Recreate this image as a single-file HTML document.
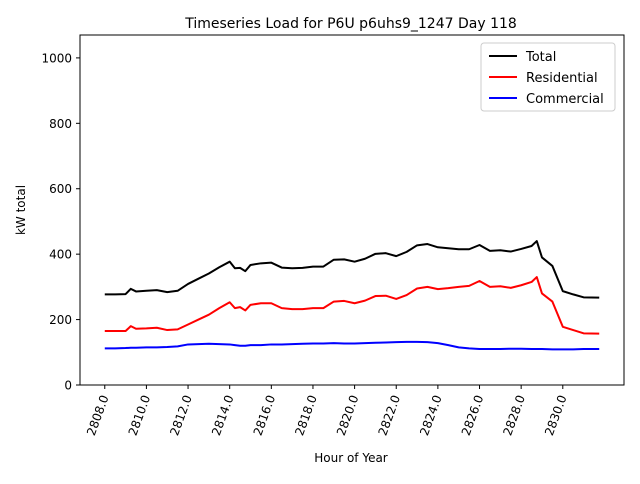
<!DOCTYPE html>
<html><head><meta charset="utf-8"><style>
body{margin:0;background:#fff;font-family:"DejaVu Sans","Liberation Sans",sans-serif}
</style></head><body>
<svg id="chart" width="640" height="480" xmlns="http://www.w3.org/2000/svg" font-family="DejaVu Sans, Liberation Sans, sans-serif">
<text x="351" y="28" text-anchor="middle" font-size="14">Timeseries Load for P6U p6uhs9_1247  Day 118</text>
<g id="grid"></g>
<g id="lines"></g>
<rect x="80" y="35" width="544" height="350" fill="none" stroke="#000" stroke-width="1"/>
<text x="351" y="462" text-anchor="middle" font-size="12">Hour of Year</text>
<text transform="translate(25,210) rotate(-90)" text-anchor="middle" font-size="12">kW total</text>
<g>
<rect x="481" y="43" width="134" height="68" fill="#fff" stroke="#ccc" rx="3"/>
<line x1="489" y1="56" x2="517" y2="56" stroke="#000" stroke-width="2"/><text x="526" y="61" font-size="13">Total</text>
<line x1="489" y1="77" x2="517" y2="77" stroke="red" stroke-width="2"/><text x="526" y="82" font-size="13">Residential</text>
<line x1="489" y1="98" x2="517" y2="98" stroke="blue" stroke-width="2"/><text x="526" y="103" font-size="13">Commercial</text>
</g>
</svg>
<script>
const hours=[2808,2808.5,2809,2809.25,2809.5,2810,2810.5,2811,2811.5,2812,2812.5,2813,2813.5,2814,2814.25,2814.5,2814.75,2815,2815.5,2816,2816.5,2817,2817.5,2818,2818.5,2819,2819.5,2820,2820.5,2821,2821.5,2822,2822.5,2823,2823.5,2824,2824.5,2825,2825.5,2826,2826.5,2827,2827.5,2828,2828.5,2828.75,2829,2829.5,2830,2830.5,2831,2831.75];
const residential=[165,165,165,180,172,173,175,168,170,185,200,215,235,253,235,238,228,245,250,250,235,232,232,235,235,255,257,250,258,272,273,263,275,295,300,293,296,300,303,318,300,302,297,305,315,330,280,255,178,168,158,157];
const commercial=[112,112,113,114,114,115,115,116,118,124,125,126,125,124,122,120,120,122,122,124,124,125,126,127,127,128,127,127,128,129,130,131,132,132,131,128,122,115,112,110,110,110,111,111,110,110,110,109,109,109,110,110];
const total=residential.map((r,i)=>r+commercial[i]);
const xTicks=[2808,2810,2812,2814,2816,2818,2820,2822,2824,2826,2828,2830];
const yTicks=[0,200,400,600,800,1000];
const X0=80,X1=624,Y0=385,Y1=35,xmin=2806.81,xmax=2832.94,ymin=0,ymax=1070;
const sx=v=>X0+(v-xmin)/(xmax-xmin)*(X1-X0);
const sy=v=>Y0-(v-ymin)/(ymax-ymin)*(Y0-Y1);
const NS="http://www.w3.org/2000/svg";
const g=document.getElementById('grid'),L=document.getElementById('lines');
function mk(t,a,p){const e=document.createElementNS(NS,t);for(const k in a)e.setAttribute(k,a[k]);p.appendChild(e);return e;}
xTicks.forEach(t=>{const x=sx(t);
const tk=mk('line',{x1:x,y1:385,x2:x,y2:389,stroke:'#000'},g);


const tx=mk('text',{x:0,y:0,'font-size':12,'text-anchor':'end',transform:`translate(${x+4},${397}) rotate(-70)`},g);
tx.textContent=t.toFixed(1);

});
yTicks.forEach(t=>{const y=sy(t);
const tk=mk('line',{x1:76,y1:y,x2:80,y2:y,stroke:'#000'},g);


const tx=mk('text',{x:72,y:y+4.5,'font-size':12,'text-anchor':'end'},g);
tx.textContent=t;

});
[[total,'#000','total-line'],[residential,'red','residential-line'],[commercial,'blue','commercial-line']].forEach(([s,c,n])=>{
const p=mk('polyline',{points:s.map((v,i)=>sx(hours[i])+','+sy(v)).join(' '),fill:'none',stroke:c,'stroke-width':2,'stroke-linejoin':'round'},L);

});
</script>
</body></html>
